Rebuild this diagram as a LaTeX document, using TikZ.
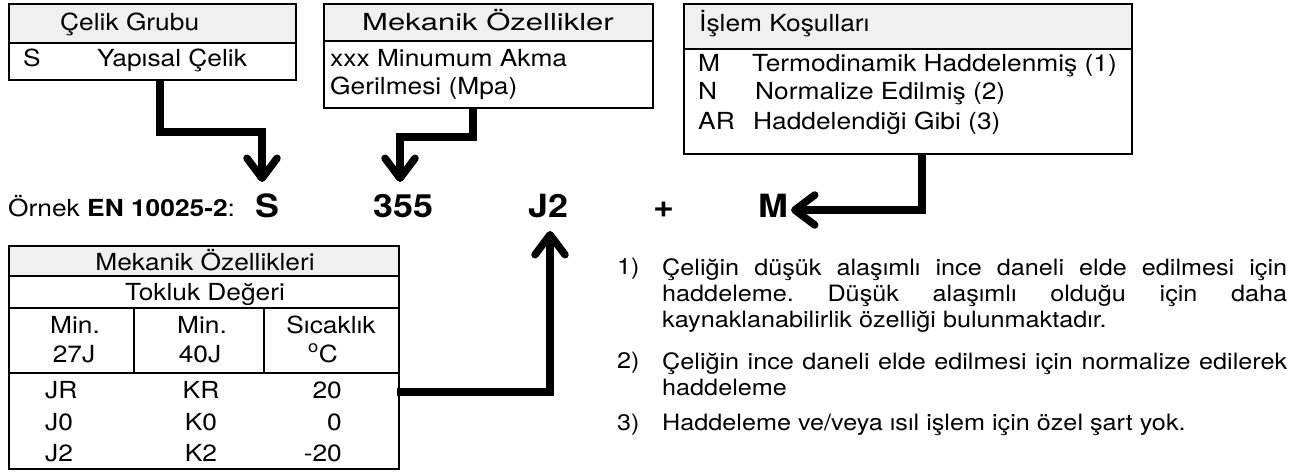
\documentclass[tikz,border=0pt]{standalone}
\usepackage{fontspec}
\setmainfont{TeX Gyre Heros}[FakeStretch=1.12]
\newfontfamily\wideheros{TeX Gyre Heros}[FakeStretch=1.32]
\usetikzlibrary{arrows.meta}
\definecolor{hdrgray}{RGB}{240,240,240}
\frenchspacing
\begin{document}
\begin{tikzpicture}[x=1pt,y=-1pt,
  t/.style={inner sep=0pt, font=\fontsize{23.5}{27}\selectfont},
  big/.style={inner sep=0pt, font=\fontsize{32}{38}\selectfont\bfseries},
  nt/.style={inner sep=0pt, font=\fontsize{22.5}{26}\selectfont},
  note/.style={inner sep=0pt, font=\fontsize{22.5}{26}\selectfont\frenchspacing, text width=625pt, align=justify, anchor=north west},
  hdr/.style={draw, line width=1.8pt, fill=hdrgray, inner sep=0pt, anchor=north west},
  bx/.style={draw, line width=1.8pt, inner sep=0pt, anchor=north west},
  conn/.style={line width=7.5pt, -{Straight Barb[length=20pt,width=30pt,round]}}]
\useasboundingbox (0,0) rectangle (1301,473);
\fill[white] (0,0) rectangle (1301,473);

% Box 1
\node[hdr, minimum width=287pt, minimum height=39pt] (b1h) at (8,3) {};
\node[bx, minimum width=287pt, minimum height=37pt] (b1b) at (8,42) {};
\node[t, anchor=base west] (b1ht) at (60,31) {Çelik Grubu};
\node[t, anchor=base west] (b1s) at (23,67) {S};
\node[t, anchor=base west] (b1y) at (97,67) {Yapısal Çelik};

% Box 2
\node[hdr, minimum width=329pt, minimum height=37pt] (b2h) at (323,3) {};
\node[bx, minimum width=329pt, minimum height=67pt] (b2b) at (323,40) {};
\node[t, anchor=base, font=\fontsize{23.5}{27}\selectfont\wideheros] (b2ht) at (488,31) {Mekanik Özellikler};
\node[t, anchor=base west] (b2l1) at (330,67) {xxx Minumum Akma};
\node[t, anchor=base west] (b2l2) at (330,95) {Gerilmesi (Mpa)};

% Box 3
\node[hdr, minimum width=448pt, minimum height=45pt] (b3h) at (683,3) {};
\node[bx, minimum width=448pt, minimum height=105pt] (b3b) at (683,48) {};
\node[t, anchor=base west] (b3ht) at (699,32) {İşlem Koşulları};
\node[t, anchor=base west] (b3m) at (698,72) {M};
\node[t, anchor=base west] (b3mt) at (752,72) {Termodinamik Haddelenmiş (1)};
\node[t, anchor=base west] (b3n) at (698,100) {N};
\node[t, anchor=base west] (b3nt) at (755,100) {Normalize Edilmiş (2)};
\node[t, anchor=base west] (b3a) at (698,130) {AR};
\node[t, anchor=base west] (b3at) at (753,130) {Haddelendiği Gibi (3)};

% Example row
\node[t, anchor=base west] (ex) at (8,217) {Örnek \textbf{EN 10025-2}:};
\node[big, anchor=base west] (cS) at (255,218) {S};
\node[big, anchor=base west] (c355) at (373,218) {355};
\node[big, anchor=base west] (cJ2) at (528,218) {J2};
\node[big, anchor=base west] (cplus) at (653,218) {+};
\node[big, anchor=base west] (cM) at (758,218) {M};

% Table
\node[hdr, minimum width=390pt, minimum height=30pt] (th) at (8,245) {};
\node[bx, minimum width=390pt, minimum height=32pt] (tt) at (8,275) {};
\node[bx, minimum width=125pt, minimum height=65pt] (tc1) at (8,307) {};
\node[bx, minimum width=130pt, minimum height=65pt] (tc2) at (133,307) {};
\node[bx, minimum width=135pt, minimum height=65pt] (tc3) at (263,307) {};
\node[bx, minimum width=390pt, minimum height=96pt] (tb) at (8,372) {};
\node[t, anchor=base] (tht) at (205,270) {Mekanik Özellikleri};
\node[t, anchor=base] (ttt) at (205,300) {Tokluk Değeri};
\node[t, anchor=base] (h1a) at (75,333) {Min.};
\node[t, anchor=base] (h2a) at (202,333) {Min.};
\node[t, anchor=base] (h3a) at (331,333) {Sıcaklık};
\node[t, anchor=base] (h1b) at (74,362) {27J};
\node[t, anchor=base] (h2b) at (200,362) {40J};
\node[t, anchor=base] (h3b) at (323,362) {\textsuperscript{o}C};
\node[t, anchor=base west] (r1a) at (45,398) {JR};
\node[t, anchor=base] (r1b) at (201,398) {KR};
\node[t, anchor=base east] (r1c) at (342,398) {20};
\node[t, anchor=base west] (r2a) at (45,430) {J0};
\node[t, anchor=base] (r2b) at (201,430) {K0};
\node[t, anchor=base east] (r2c) at (342,430) {0};
\node[t, anchor=base west] (r3a) at (45,461) {J2};
\node[t, anchor=base] (r3b) at (201,461) {K2};
\node[t, anchor=base east] (r3c) at (342,461) {-20};

% Notes
\node[nt, anchor=base west] (n1) at (617,274) {1)};
\node[note] (n1t) at (662,258) {Çeliğin düşük alaşımlı ince daneli elde edilmesi için\linebreak haddeleme. Düşük alaşımlı olduğu için daha\linebreak kaynaklanabilirlik özelliği bulunmaktadır.};
\node[nt, anchor=base west] (n2) at (617,368) {2)};
\node[note] (n2t) at (662,352) {Çeliğin ince daneli elde edilmesi için normalize edilerek\linebreak haddeleme};
\node[nt, anchor=base west] (n3) at (617,430) {3)};
\node[note] (n3t) at (662,414) {Haddeleme ve/veya ısıl işlem için özel şart yok.};

% Connectors
\coordinate (a1s) at (160,79);
\coordinate (a1e) at (262,182);
\draw[conn] (a1s) -- ++(0,53) -| (a1e);
\coordinate (a2s) at (473,107);
\coordinate (a2e) at (400,182);
\draw[conn] (a2s) -- ++(0,30) -| (a2e);
\coordinate (a3s) at (922,153);
\coordinate (a3e) at (791,210);
\draw[conn] (a3s) |- (a3e);
\coordinate (a4s) at (397,392);
\coordinate (a4e) at (550,231);
\draw[conn] (a4s) -| (a4e);
\end{tikzpicture}
\end{document}
